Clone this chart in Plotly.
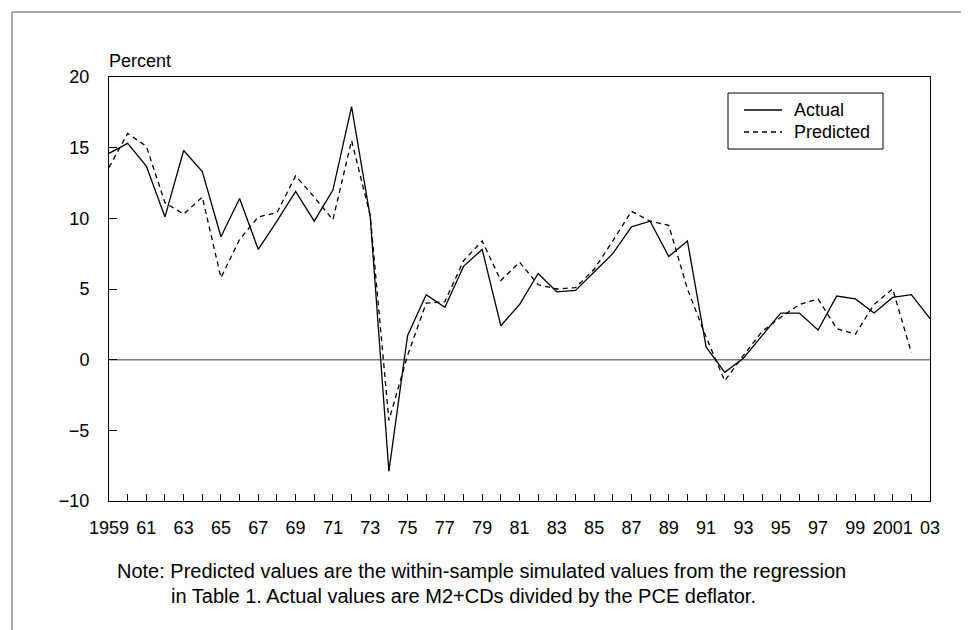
import plotly.graph_objects as go

# Data (percent, annual)
years = list(range(1959, 2004))
actual = [14.6, 15.3, 13.7, 10.1, 14.8, 13.3, 8.7, 11.4, 7.8, 9.8,
          11.9, 9.8, 12.0, 17.9, 10.1, -7.9, 1.7, 4.6, 3.7, 6.6,
          7.8, 2.4, 3.9, 6.1, 4.8, 4.9, 6.2, 7.5, 9.4, 9.8,
          7.3, 8.4, 0.9, -0.9, 0.1, 1.7, 3.3, 3.3, 2.1, 4.5,
          4.3, 3.3, 4.4, 4.6, 2.9]
pred_years = list(range(1959, 2003))
predicted = [13.6, 16.0, 15.1, 11.1, 10.3, 11.5, 5.8, 8.5, 10.1, 10.4,
             13.0, 11.5, 9.9, 15.5, 10.2, -4.3, 0.3, 4.0, 4.1, 7.0,
             8.4, 5.6, 6.9, 5.3, 5.0, 5.1, 6.4, 8.4, 10.5, 9.8,
             9.5, 5.0, 1.6, -1.5, 0.3, 2.0, 3.0, 3.9, 4.3, 2.2,
             1.8, 3.9, 5.0, 0.5]

tick_years = list(range(1959, 2004))
tick_text = ['1959', '61', '63', '65', '67', '69', '71', '73', '75', '77', '79',
             '81', '83', '85', '87', '89', '91', '93', '95', '97', '99', '2001', '03']

note1 = 'Note: Predicted values are the within-sample simulated values from the regression'
note2 = 'in Table 1. Actual values are M2+CDs divided by the PCE deflator.'

font = "Liberation Sans, Arial, Helvetica, sans-serif"
dash = '5px,4px'

fig = go.Figure()

# zero line
fig.add_trace(go.Scatter(x=[1959, 2003], y=[0, 0], mode='lines', showlegend=False,
                         hoverinfo='skip', line=dict(color='#7a7a7a', width=1.5)))
fig.add_trace(go.Scatter(x=years, y=actual, mode='lines', name='Actual', showlegend=False,
                         line=dict(color='black', width=1.3)))
fig.add_trace(go.Scatter(x=pred_years, y=predicted, mode='lines', name='Predicted', showlegend=False,
                         line=dict(color='black', width=1.3, dash=dash)))

# every year gets a tick, odd years a label
labels = []
for y in tick_years:
    if y % 2 == 1:
        labels.append(tick_text[(y - 1959) // 2])
    else:
        labels.append('')

fig.update_xaxes(range=[1959, 2003], tickvals=tick_years, ticktext=labels,
                 ticks='inside', ticklen=7, tickcolor='black', tickwidth=1,
                 showline=True, linecolor='black', linewidth=1, mirror=True,
                 showgrid=False, zeroline=False, automargin=False,
                 ticklabelstandoff=10, tickfont=dict(size=18, color='black'))
fig.update_yaxes(range=[-10, 20], dtick=5, tick0=0,
                 ticks='inside', ticklen=8, tickcolor='black', tickwidth=1,
                 showline=True, linecolor='black', linewidth=1, mirror=True,
                 showgrid=False, zeroline=False, automargin=False,
                 ticklabelstandoff=15, tickfont=dict(size=18, color='black'))

W, H = 969, 630
L, R, T, B = 101, 47, 69, 137
pw, ph = W - L - R, H - T - B

def px(x):
    return (x - L) / pw

def py(y):
    return (H - B - y) / ph

def label(text, x, y, size=18):
    return dict(text=text, xref='paper', yref='paper', x=px(x), y=py(y),
                xanchor='left', yanchor='middle', showarrow=False,
                font=dict(size=size, color='black'))

# legend box drawn by hand so its size matches the original
legend_shapes = [
    dict(type='rect', xref='paper', yref='paper', x0=px(720), x1=px(875),
         y0=py(141), y1=py(85), line=dict(color='black', width=1), fillcolor='white'),
    dict(type='line', xref='paper', yref='paper', x0=px(736), x1=px(774),
         y0=py(102), y1=py(102), line=dict(color='black', width=1.3)),
    dict(type='line', xref='paper', yref='paper', x0=px(736), x1=px(774),
         y0=py(124), y1=py(124), line=dict(color='black', width=1.3, dash=dash)),
]

fig.update_layout(
    width=W, height=H,
    margin=dict(l=L, r=R, t=T, b=B),
    plot_bgcolor='white', paper_bgcolor='white',
    font=dict(family=font, size=18, color='black'),
    showlegend=False,
    annotations=[
        label('Percent', 99, 53),
        label('Actual', 784, 102),
        label('Predicted', 784, 124),
        label(note1, 107, 563, 20),
        label(note2, 161, 588, 20),
    ],
    shapes=[
        # outer frame
        dict(type='rect', xref='paper', yref='paper', x0=px(4), x1=px(990),
             y0=py(700), y1=py(4), line=dict(color='#555555', width=1)),
    ] + legend_shapes,
)

fig.write_html("out.html")
